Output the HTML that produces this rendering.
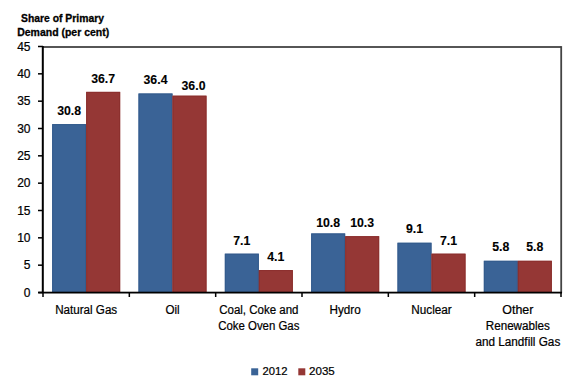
<!DOCTYPE html>
<html><head><meta charset="utf-8"><style>
html,body{margin:0;padding:0;background:#fff;width:580px;height:386px;overflow:hidden}
svg{display:block;font-family:"Liberation Sans", sans-serif}
</style></head><body>
<svg width="580" height="386" viewBox="0 0 580 386">
<rect x="52.17" y="124.13" width="34.00" height="168.87" fill="#3a6396"/>
<rect x="52.67" y="124.63" width="33.00" height="167.87" fill="none" stroke="#335b8c" stroke-width="1"/>
<text x="69.17" y="115.10" font-size="12.3" text-anchor="middle" font-weight="bold" fill="#000" stroke="#000" stroke-width="0.12">30.8</text>
<rect x="86.17" y="91.87" width="34.00" height="201.13" fill="#953735"/>
<rect x="86.67" y="92.37" width="33.00" height="200.13" fill="none" stroke="#8b2f2d" stroke-width="1"/>
<text x="103.17" y="83.00" font-size="12.3" text-anchor="middle" font-weight="bold" fill="#000" stroke="#000" stroke-width="0.12">36.7</text>
<rect x="138.50" y="93.51" width="34.00" height="199.49" fill="#3a6396"/>
<rect x="139.00" y="94.01" width="33.00" height="198.49" fill="none" stroke="#335b8c" stroke-width="1"/>
<text x="155.50" y="84.10" font-size="12.3" text-anchor="middle" font-weight="bold" fill="#000" stroke="#000" stroke-width="0.12">36.4</text>
<rect x="172.50" y="95.70" width="34.00" height="197.30" fill="#953735"/>
<rect x="173.00" y="96.20" width="33.00" height="196.30" fill="none" stroke="#8b2f2d" stroke-width="1"/>
<text x="193.50" y="89.70" font-size="12.3" text-anchor="middle" font-weight="bold" fill="#000" stroke="#000" stroke-width="0.12">36.0</text>
<rect x="224.83" y="253.69" width="34.00" height="39.31" fill="#3a6396"/>
<rect x="225.33" y="254.19" width="33.00" height="38.31" fill="none" stroke="#335b8c" stroke-width="1"/>
<text x="241.83" y="244.70" font-size="12.3" text-anchor="middle" font-weight="bold" fill="#000" stroke="#000" stroke-width="0.12">7.1</text>
<rect x="258.83" y="270.09" width="34.00" height="22.91" fill="#953735"/>
<rect x="259.33" y="270.59" width="33.00" height="21.91" fill="none" stroke="#8b2f2d" stroke-width="1"/>
<text x="275.83" y="261.20" font-size="12.3" text-anchor="middle" font-weight="bold" fill="#000" stroke="#000" stroke-width="0.12">4.1</text>
<rect x="311.17" y="233.46" width="34.00" height="59.54" fill="#3a6396"/>
<rect x="311.67" y="233.96" width="33.00" height="58.54" fill="none" stroke="#335b8c" stroke-width="1"/>
<text x="328.17" y="226.80" font-size="12.3" text-anchor="middle" font-weight="bold" fill="#000" stroke="#000" stroke-width="0.12">10.8</text>
<rect x="345.17" y="236.19" width="34.00" height="56.81" fill="#953735"/>
<rect x="345.67" y="236.69" width="33.00" height="55.81" fill="none" stroke="#8b2f2d" stroke-width="1"/>
<text x="362.17" y="226.80" font-size="12.3" text-anchor="middle" font-weight="bold" fill="#000" stroke="#000" stroke-width="0.12">10.3</text>
<rect x="397.50" y="242.75" width="34.00" height="50.25" fill="#3a6396"/>
<rect x="398.00" y="243.25" width="33.00" height="49.25" fill="none" stroke="#335b8c" stroke-width="1"/>
<text x="414.50" y="233.30" font-size="12.3" text-anchor="middle" font-weight="bold" fill="#000" stroke="#000" stroke-width="0.12">9.1</text>
<rect x="431.50" y="253.69" width="34.00" height="39.31" fill="#953735"/>
<rect x="432.00" y="254.19" width="33.00" height="38.31" fill="none" stroke="#8b2f2d" stroke-width="1"/>
<text x="448.50" y="245.00" font-size="12.3" text-anchor="middle" font-weight="bold" fill="#000" stroke="#000" stroke-width="0.12">7.1</text>
<rect x="483.83" y="260.79" width="34.00" height="32.21" fill="#3a6396"/>
<rect x="484.33" y="261.29" width="33.00" height="31.21" fill="none" stroke="#335b8c" stroke-width="1"/>
<text x="500.83" y="251.30" font-size="12.3" text-anchor="middle" font-weight="bold" fill="#000" stroke="#000" stroke-width="0.12">5.8</text>
<rect x="517.83" y="260.79" width="34.00" height="32.21" fill="#953735"/>
<rect x="518.33" y="261.29" width="33.00" height="31.21" fill="none" stroke="#8b2f2d" stroke-width="1"/>
<text x="534.83" y="251.30" font-size="12.3" text-anchor="middle" font-weight="bold" fill="#000" stroke="#000" stroke-width="0.12">5.8</text>
<rect x="42" y="46.1" width="519" height="1.8" fill="#444"/>
<rect x="560.3" y="46.1" width="1.8" height="247" fill="#444"/>
<rect x="41.8" y="46" width="2" height="247" fill="#000"/>
<rect x="38.3" y="291.7" width="523.7" height="1.8" fill="#000"/>
<rect x="38" y="291.75" width="5" height="1.5" fill="#000"/>
<text x="30.50" y="296.70" font-size="12" text-anchor="end" font-weight="normal" fill="#000" stroke="#000" stroke-width="0.22">0</text>
<rect x="38" y="264.42" width="5" height="1.5" fill="#000"/>
<text x="30.50" y="269.37" font-size="12" text-anchor="end" font-weight="normal" fill="#000" stroke="#000" stroke-width="0.22">5</text>
<rect x="38" y="237.08" width="5" height="1.5" fill="#000"/>
<text x="30.50" y="242.03" font-size="12" text-anchor="end" font-weight="normal" fill="#000" stroke="#000" stroke-width="0.22">10</text>
<rect x="38" y="209.75" width="5" height="1.5" fill="#000"/>
<text x="30.50" y="214.70" font-size="12" text-anchor="end" font-weight="normal" fill="#000" stroke="#000" stroke-width="0.22">15</text>
<rect x="38" y="182.42" width="5" height="1.5" fill="#000"/>
<text x="30.50" y="187.37" font-size="12" text-anchor="end" font-weight="normal" fill="#000" stroke="#000" stroke-width="0.22">20</text>
<rect x="38" y="155.08" width="5" height="1.5" fill="#000"/>
<text x="30.50" y="160.03" font-size="12" text-anchor="end" font-weight="normal" fill="#000" stroke="#000" stroke-width="0.22">25</text>
<rect x="38" y="127.75" width="5" height="1.5" fill="#000"/>
<text x="30.50" y="132.70" font-size="12" text-anchor="end" font-weight="normal" fill="#000" stroke="#000" stroke-width="0.22">30</text>
<rect x="38" y="100.42" width="5" height="1.5" fill="#000"/>
<text x="30.50" y="105.37" font-size="12" text-anchor="end" font-weight="normal" fill="#000" stroke="#000" stroke-width="0.22">35</text>
<rect x="38" y="73.08" width="5" height="1.5" fill="#000"/>
<text x="30.50" y="78.03" font-size="12" text-anchor="end" font-weight="normal" fill="#000" stroke="#000" stroke-width="0.22">40</text>
<rect x="38" y="45.75" width="5" height="1.5" fill="#000"/>
<text x="30.50" y="50.70" font-size="12" text-anchor="end" font-weight="normal" fill="#000" stroke="#000" stroke-width="0.22">45</text>
<rect x="42.25" y="292" width="1.5" height="5" fill="#000"/>
<rect x="128.58" y="292" width="1.5" height="5" fill="#000"/>
<rect x="214.92" y="292" width="1.5" height="5" fill="#000"/>
<rect x="301.25" y="292" width="1.5" height="5" fill="#000"/>
<rect x="387.58" y="292" width="1.5" height="5" fill="#000"/>
<rect x="473.92" y="292" width="1.5" height="5" fill="#000"/>
<rect x="560.25" y="292" width="1.5" height="5" fill="#000"/>
<text x="86.17" y="313.80" font-size="12" text-anchor="middle" font-weight="normal" fill="#000" stroke="#000" stroke-width="0.22" textLength="62" lengthAdjust="spacingAndGlyphs">Natural Gas</text>
<text x="172.50" y="313.80" font-size="12" text-anchor="middle" font-weight="normal" fill="#000" stroke="#000" stroke-width="0.22" textLength="14.2" lengthAdjust="spacingAndGlyphs">Oil</text>
<text x="258.83" y="313.80" font-size="12" text-anchor="middle" font-weight="normal" fill="#000" stroke="#000" stroke-width="0.22" textLength="79.3" lengthAdjust="spacingAndGlyphs">Coal, Coke and</text>
<text x="258.83" y="329.90" font-size="12" text-anchor="middle" font-weight="normal" fill="#000" stroke="#000" stroke-width="0.22" textLength="81.2" lengthAdjust="spacingAndGlyphs">Coke Oven Gas</text>
<text x="345.17" y="313.80" font-size="12" text-anchor="middle" font-weight="normal" fill="#000" stroke="#000" stroke-width="0.22" textLength="31.2" lengthAdjust="spacingAndGlyphs">Hydro</text>
<text x="431.50" y="313.80" font-size="12" text-anchor="middle" font-weight="normal" fill="#000" stroke="#000" stroke-width="0.22" textLength="40.5" lengthAdjust="spacingAndGlyphs">Nuclear</text>
<text x="517.83" y="313.80" font-size="12" text-anchor="middle" font-weight="normal" fill="#000" stroke="#000" stroke-width="0.22" textLength="31.1" lengthAdjust="spacingAndGlyphs">Other</text>
<text x="517.83" y="329.90" font-size="12" text-anchor="middle" font-weight="normal" fill="#000" stroke="#000" stroke-width="0.22" textLength="64.1" lengthAdjust="spacingAndGlyphs">Renewables</text>
<text x="517.83" y="346.00" font-size="12" text-anchor="middle" font-weight="normal" fill="#000" stroke="#000" stroke-width="0.22" textLength="84.9" lengthAdjust="spacingAndGlyphs">and Landfill Gas</text>
<text x="21.00" y="21.80" font-size="11" text-anchor="start" font-weight="bold" fill="#000" stroke="#000" stroke-width="0.3" textLength="83" lengthAdjust="spacingAndGlyphs">Share of Primary</text>
<text x="17.20" y="36.40" font-size="11" text-anchor="start" font-weight="bold" fill="#000" stroke="#000" stroke-width="0.3" textLength="92" lengthAdjust="spacingAndGlyphs">Demand (per cent)</text>
<rect x="251.20" y="368.30" width="7.00" height="7.00" fill="#3a6396"/>
<text x="262.40" y="375.20" font-size="11.8" text-anchor="start" font-weight="normal" fill="#000" stroke="#000" stroke-width="0.22" textLength="25" lengthAdjust="spacingAndGlyphs">2012</text>
<rect x="298.30" y="368.30" width="7.00" height="7.00" fill="#953735"/>
<text x="309.00" y="375.20" font-size="11.8" text-anchor="start" font-weight="normal" fill="#000" stroke="#000" stroke-width="0.22" textLength="25.8" lengthAdjust="spacingAndGlyphs">2035</text>
</svg>
</body></html>
